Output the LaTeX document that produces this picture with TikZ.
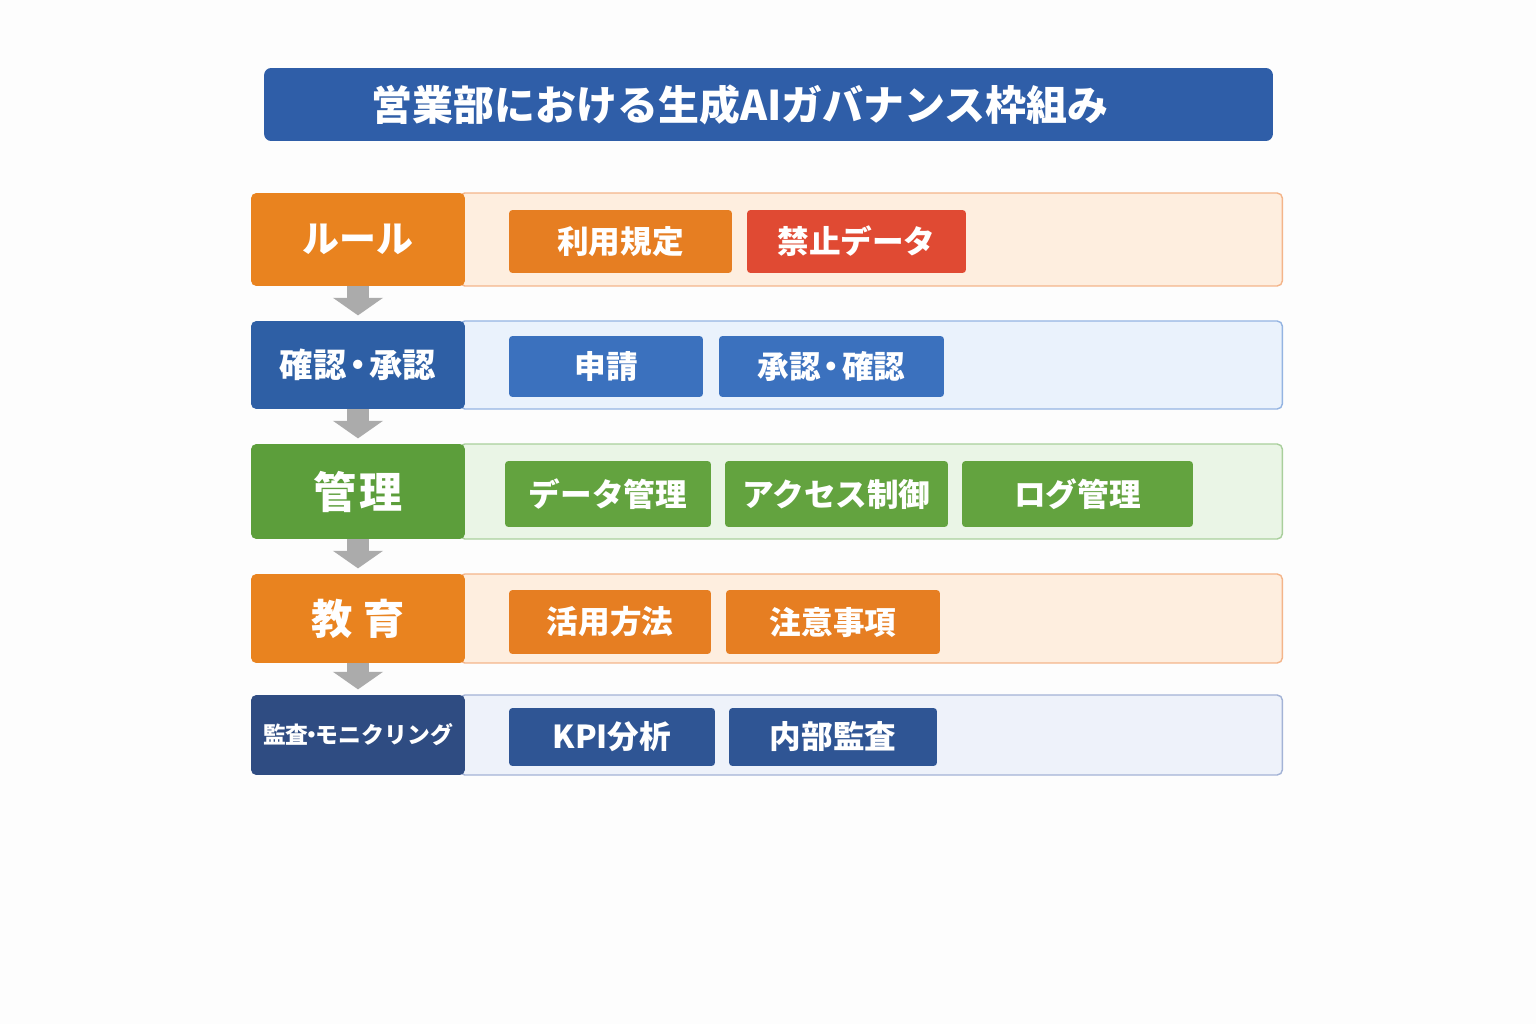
\documentclass[tikz,border=0pt]{standalone}
\usepackage{fontspec}
\setmainfont{Noto Sans CJK JP}
\usetikzlibrary{arrows.meta}

\definecolor{bgwhite}{HTML}{FDFDFD}
\definecolor{titleblue}{HTML}{2F5EA8}
\definecolor{ruleor}{HTML}{E9831F}
\definecolor{itemor}{HTML}{E67E22}
\definecolor{itemred}{HTML}{E04A33}
\definecolor{checkbl}{HTML}{2E5FA5}
\definecolor{itembl}{HTML}{3B71BE}
\definecolor{mgmtgr}{HTML}{5C9E3B}
\definecolor{itemgr}{HTML}{63A33F}
\definecolor{auditnv}{HTML}{2F4C82}
\definecolor{itemnv}{HTML}{2F5594}
\definecolor{orfill}{HTML}{FEEEDF}
\definecolor{ordraw}{HTML}{F4B58A}
\definecolor{blfill}{HTML}{EAF2FC}
\definecolor{bldraw}{HTML}{94B4E2}
\definecolor{grfill}{HTML}{EAF5E6}
\definecolor{grdraw}{HTML}{A9CF9C}
\definecolor{nvfill}{HTML}{EEF2FA}
\definecolor{nvdraw}{HTML}{A3B3D6}
\definecolor{arrowgray}{HTML}{ABABAB}

\begin{document}
\begin{tikzpicture}[x=0.02cm, y=-0.02cm,
    lab/.style={rounded corners=3pt, text=white, font=\bfseries, minimum width=4.28cm, inner sep=0pt},
    item/.style={rounded corners=2pt, text=white, font=\bfseries\fontsize{18}{20}\selectfont, inner sep=0pt},
    panel/.style={line width=0.8pt, rounded corners=3pt, minimum width=16.46cm, inner sep=0pt},
    down/.style={draw=arrowgray, line width=13pt, -{Triangle[width=28pt,length=10pt]}, shorten >=3pt}]
    \fill[bgwhite] (0,0) rectangle (1536,1024);
    \useasboundingbox (0,0) rectangle (1536,1024);

    % title
    \node[rounded corners=4pt, fill=titleblue, minimum width=20.18cm, minimum height=1.46cm] (title) at (768.5,104.5) {};
    \node[text=white, font=\bfseries\fontsize{23.3}{26}\selectfont] (titletext) at (740,104.5) {営業部における生成AIガバナンス枠組み};

    % rule
    \node[panel, fill=orfill, draw=ordraw, minimum height=1.86cm] (p1) at (871,239.5) {};
    \node[lab, fill=ruleor, minimum height=1.86cm, font=\bfseries\fontsize{21}{24}\selectfont] (r1) at (358,239.5) {ルール};
    \node[item, fill=itemor, minimum width=4.46cm, minimum height=1.26cm] (i11) at (620.5,241.5) {利用規定};
    \node[item, fill=itemred, minimum width=4.38cm, minimum height=1.26cm] (i12) at (856.5,241.5) {禁止データ};

    % check
    \node[panel, fill=blfill, draw=bldraw, minimum height=1.76cm] (p2) at (871,365) {};
    \node[lab, fill=checkbl, minimum height=1.76cm, font=\bfseries\fontsize{19}{22}\selectfont] (r2) at (358,365) {確認\hspace{-3pt}・\hspace{-3pt}承認};
    \node[item, fill=itembl, minimum width=3.88cm, minimum height=1.22cm] (i21) at (606,366.5) {申請};
    \node[item, fill=itembl, minimum width=4.5cm, minimum height=1.22cm] (i22) at (831.5,366.5) {承認\hspace{-3pt}・\hspace{-3pt}確認};

    % management
    \node[panel, fill=grfill, draw=grdraw, minimum height=1.9cm] (p3) at (871,491.5) {};
    \node[lab, fill=mgmtgr, minimum height=1.9cm, font=\bfseries\fontsize{24.5}{28}\selectfont] (r3) at (358,491.5) {管\hspace{2pt}理};
    \node[item, fill=itemgr, minimum width=4.12cm, minimum height=1.32cm] (i31) at (608,494) {データ管理};
    \node[item, fill=itemgr, minimum width=4.46cm, minimum height=1.32cm] (i32) at (836.5,494) {アクセス制御};
    \node[item, fill=itemgr, minimum width=4.62cm, minimum height=1.32cm] (i33) at (1077.5,494) {ログ管理};

    % education
    \node[panel, fill=orfill, draw=ordraw, minimum height=1.78cm] (p4) at (871,618.5) {};
    \node[lab, fill=ruleor, minimum height=1.78cm, font=\bfseries\fontsize{23.5}{27}\selectfont] (r4) at (358,618.5) {教\hspace{6pt}育};
    \node[item, fill=itemor, minimum width=4.04cm, minimum height=1.28cm] (i41) at (610,622) {活用方法};
    \node[item, fill=itemor, minimum width=4.28cm, minimum height=1.28cm] (i42) at (833,622) {注意事項};

    % audit
    \node[panel, fill=nvfill, draw=nvdraw, minimum height=1.6cm] (p5) at (871,735) {};
    \node[lab, fill=auditnv, minimum height=1.6cm, font=\bfseries\fontsize{13}{15}\selectfont] (r5) at (358,735) {監査\hspace{-4.5pt}・\hspace{-4.5pt}モニクリング};
    \node[item, fill=itemnv, minimum width=4.12cm, minimum height=1.16cm] (i51) at (612,737) {KPI分析};
    \node[item, fill=itemnv, minimum width=4.16cm, minimum height=1.16cm] (i52) at (833,737) {内部監査};

    % flow
    \draw[down] (r1.south) -- (r2.north);
    \draw[down] (r2.south) -- (r3.north);
    \draw[down] (r3.south) -- (r4.north);
    \draw[down] (r4.south) -- (r5.north);
\end{tikzpicture}
\end{document}
